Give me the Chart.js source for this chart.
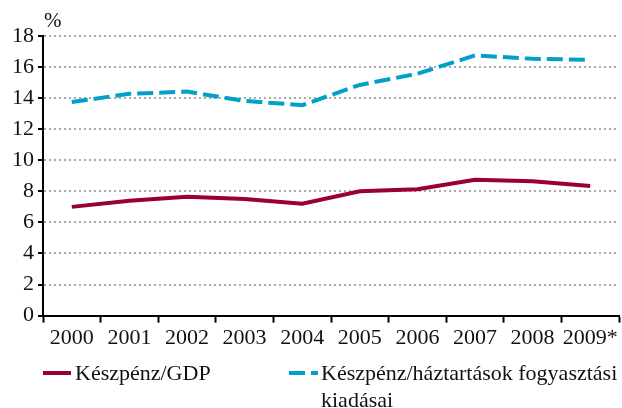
<!DOCTYPE html>
<html>
<head>
<meta charset="utf-8">
<script src="https://cdn.jsdelivr.net/npm/chart.js@4.4.0/dist/chart.umd.min.js"></script>
<style>
  body { margin: 0; background: #fff; }
  #wrap { position: relative; width: 622px; height: 408px; }
  .leg { position: absolute; font-family: "Liberation Serif", serif; font-size: 22px; line-height: 27px; color: #111; }
  .sw { position: absolute; height: 0; }
</style>
</head>
<body>
<div id="wrap">
  <canvas id="chart" width="622" height="408"></canvas>
  <div class="sw" style="left:43px;top:371px;width:28px;border-top:4px solid #990033;"></div>
  <div class="leg" style="left:75px;top:359px;">Készpénz/GDP</div>
  <div class="sw" style="left:289px;top:371px;width:16px;border-top:4px solid #00a0c8;"></div>
  <div class="sw" style="left:311px;top:371px;width:7px;border-top:4px solid #00a0c8;"></div>
  <div class="leg" style="left:321px;top:359px;">Készpénz/háztartások fogyasztási<br>kiadásai</div>
</div>
<script>
const years = ["2000", "2001", "2002", "2003", "2004", "2005", "2006", "2007", "2008", "2009*"];
const cashGdp = [7.0, 7.4, 7.65, 7.5, 7.2, 8.0, 8.13, 8.75, 8.65, 8.35];
const cashConsumption = [13.75, 14.28, 14.42, 13.82, 13.55, 14.85, 15.57, 16.75, 16.53, 16.47];
const yTicks = [0, 2, 4, 6, 8, 10, 12, 14, 16, 18];

const serif = "'Liberation Serif', serif";

const percentLabel = {
  id: "percentLabel",
  afterDraw(chart) {
    const ctx = chart.ctx;
    ctx.save();
    ctx.font = "21px " + serif;
    ctx.fillStyle = "#111";
    ctx.textBaseline = "middle";
    ctx.fillText("%", chart.chartArea.left + 1, chart.chartArea.top - 15);
    ctx.restore();
  }
};

new Chart(document.getElementById("chart"), {
  type: "line",
  data: {
    labels: years,
    datasets: [
      {
        label: "Készpénz/GDP",
        data: cashGdp,
        borderColor: "#990033",
        borderWidth: 4,
        pointRadius: 0,
        tension: 0,
        fill: false
      },
      {
        label: "Készpénz/háztartások fogyasztási kiadásai",
        data: cashConsumption,
        borderColor: "#00a0c8",
        borderWidth: 4,
        borderDash: [16, 6],
        pointRadius: 0,
        tension: 0,
        fill: false
      }
    ]
  },
  options: {
    responsive: false,
    animation: false,
    devicePixelRatio: 1,
    layout: { padding: { left: 0, right: 3, top: 36, bottom: 55 } },
    plugins: {
      legend: { display: false },
      tooltip: { enabled: false }
    },
    scales: {
      x: {
        offset: true,
        grid: {
          offset: true,
          drawOnChartArea: false,
          tickColor: "#000",
          tickLength: 7,
          tickWidth: 2
        },
        border: { color: "#000", width: 2 },
        ticks: {
          color: "#111",
          font: { family: serif, size: 22 },
          padding: 2,
          maxRotation: 0,
          autoSkip: false
        }
      },
      y: {
        min: 0,
        max: 18,
        afterFit: s => { s.width = 43; },
        afterBuildTicks: s => { s.ticks = yTicks.map(v => ({ value: v })); },
        grid: {
          color: ctx => ctx.tick && ctx.tick.value === 0 ? "rgba(0,0,0,0)" : "#a8a8a8",
          lineWidth: 2,
          tickColor: "#000",
          tickLength: 5,
          tickWidth: 2,
          tickBorderDash: []
        },
        border: { color: "#000", width: 2, dash: [2, 3] },
        ticks: {
          color: "#111",
          font: { family: serif, size: 22 },
          padding: 4
        }
      }
    }
  },
  plugins: [percentLabel]
});
</script>
</body>
</html>
